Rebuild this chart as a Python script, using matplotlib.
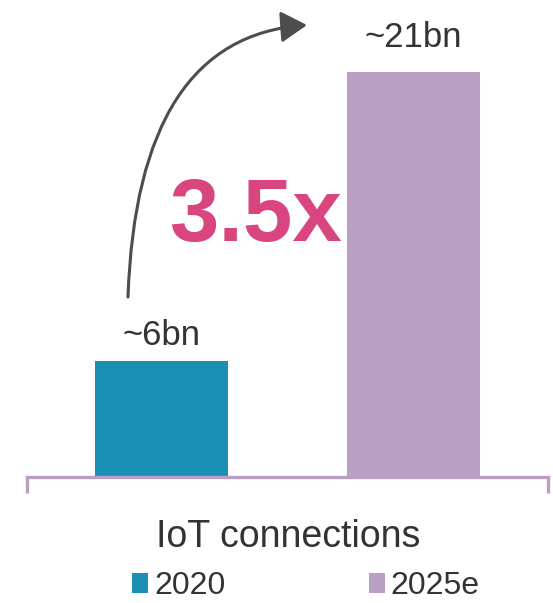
import matplotlib
matplotlib.use("Agg")
import matplotlib.pyplot as plt
from matplotlib.patches import FancyArrowPatch

# values
years = ["2020", "2025e"]
connections = [6, 21]
value_labels = ["~6bn", "~21bn"]
growth_label = "3.5x"
axis_title = "IoT connections"

teal = "#1c8fb5"
lilac = "#b9a0c2"
bar_colors = [teal, lilac]

plt.rcParams['font.family'] = ['Liberation Sans', 'DejaVu Sans']

fig = plt.figure(figsize=(5.53, 6.03), dpi=100)
ax = fig.add_axes([27/553, 126/603, 521/553, 477/603])

pos = list(range(len(years)))
bars = ax.bar(pos, connections, width=0.527, color=bar_colors, label=years)

ax.set_xlim(-0.531, 1.533)
ax.set_ylim(0, 24.73)

# bracket-style baseline
for s in ["top", "left", "right"]:
    ax.spines[s].set_visible(False)
ax.spines["bottom"].set_color(lilac)
ax.spines["bottom"].set_linewidth(2.4)
ax.set_xticks([])
ax.set_yticks([])
for xe in (0, 1):
    ax.plot([xe, xe], [0, -0.034], transform=ax.transAxes, color=lilac,
            lw=2.4, clip_on=False, solid_capstyle="butt")

# value labels on top of bars
offsets = [7, 13]
for p, v, lab, off in zip(pos, connections, value_labels, offsets):
    ax.annotate(lab, (p, v), xytext=(0, off), textcoords="offset points",
                ha="center", va="bottom", fontsize=25, color="#333333")

# growth arrow and multiplier
arrow = FancyArrowPatch((-0.131, 9.33), (0.578, 23.43),
                        connectionstyle="angle3,angleA=88,angleB=4",
                        arrowstyle="-|>,head_length=0.4,head_width=0.24",
                        mutation_scale=40, lw=2.2, color="#4d4d4d",
                        shrinkA=0, shrinkB=0)
ax.add_patch(arrow)
ax.text(0.372, 13.45, growth_label, ha="center", va="center",
        fontsize=64, fontweight="bold", color="#d8457f")

fig.text(288/553, 1 - 537/603, axis_title, ha="center", va="center",
         fontsize=27, color="#333333")

fig.legend(handles=bars.patches, labels=years, loc="center",
           bbox_to_anchor=(306/553, 1 - 586/603), ncol=2, frameon=False,
           fontsize=23, handlelength=0.5, handleheight=0.6,
           handletextpad=0.18, columnspacing=4.5, labelcolor="#333333")

fig.savefig("out.png", dpi=100, facecolor="white")
